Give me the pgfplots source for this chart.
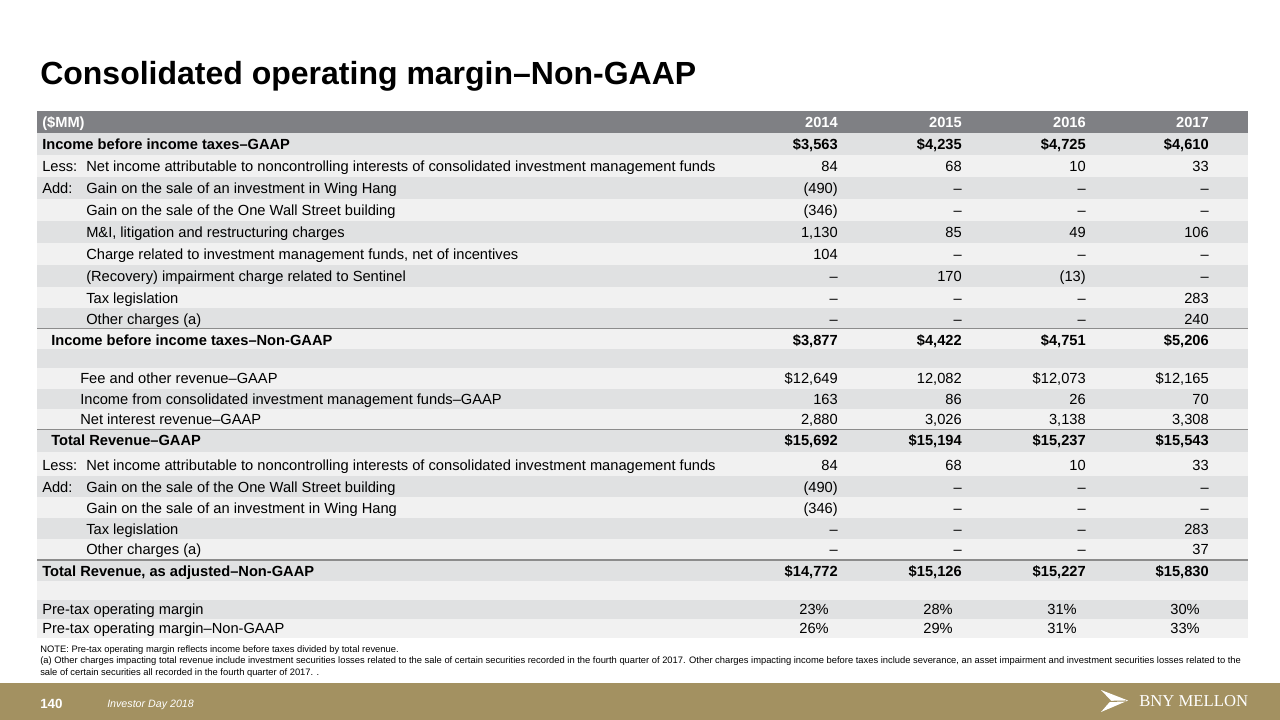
\documentclass[border=0pt]{standalone}
\usepackage{fontspec}
\setmainfont{Liberation Sans}
\newfontfamily\logofont{Liberation Serif}
\usepackage{pgfplots}
\usepackage{pgfplotstable}
\pgfplotsset{compat=1.18}
\definecolor{hdr}{RGB}{127,128,132}
\definecolor{bandA}{RGB}{224,225,226}
\definecolor{bandB}{RGB}{241,241,241}
\definecolor{rulec}{RGB}{140,140,140}
\definecolor{gold}{RGB}{163,145,97}
\newcommand\bodyfont{\fontsize{11}{13}\selectfont}
\newcommand\notefont{\fontsize{7.03}{8}\selectfont}

\pgfplotstableread[col sep=semicolon]{
x;y;t
42;166;Less:
86;166;Net income attributable to noncontrolling interests of consolidated investment management funds
42;188;Add:
86;188;Gain on the sale of an investment in Wing Hang
86;210;Gain on the sale of the One Wall Street building
86;232;M\&I, litigation and restructuring charges
86;254;Charge related to investment management funds, net of incentives
86;276;(Recovery) impairment charge related to Sentinel
86;298;Tax legislation
86;319;Other charges (a)
80;378;Fee and other revenue–GAAP
80;399;Income from consolidated investment management funds–GAAP
80;419;Net interest revenue–GAAP
42;465;Less:
86;465;Net income attributable to noncontrolling interests of consolidated investment management funds
42;487;Add:
86;487;Gain on the sale of the One Wall Street building
86;508;Gain on the sale of an investment in Wing Hang
86;529;Tax legislation
86;549;Other charges (a)
42;609;Pre-tax operating margin
42;628;Pre-tax operating margin–Non-GAAP
}\labN

\pgfplotstableread[col sep=semicolon]{
x;y;t
42;144;Income before income taxes–GAAP
51;340;Income before income taxes–Non-GAAP
51;440;Total Revenue–GAAP
42;571;Total Revenue, as adjusted–Non-GAAP
}\labB

\pgfplotstableread[col sep=semicolon]{
y;a;b;c;d
166;84;68;10;33
188;(490);–;–;–
210;(346);–;–;–
232;1,130;85;49;106
254;104;–;–;–
276;–;170;(13);–
298;–;–;–;283
319;–;–;–;240
378;\$12,649;12,082;\$12,073;\$12,165
399;163;86;26;70
419;2,880;3,026;3,138;3,308
465;84;68;10;33
487;(490);–;–;–
508;(346);–;–;–
529;–;–;–;283
549;–;–;–;37
}\numN

\pgfplotstableread[col sep=semicolon]{
y;a;b;c;d
609;23\%;28\%;31\%;30\%
628;26\%;29\%;31\%;33\%
}\numP

\pgfplotstableread[col sep=semicolon]{
y;a;b;c;d
144;\$3,563;\$4,235;\$4,725;\$4,610
340;\$3,877;\$4,422;\$4,751;\$5,206
440;\$15,692;\$15,194;\$15,237;\$15,543
571;\$14,772;\$15,126;\$15,227;\$15,830
}\numB

\begin{document}
\begin{tikzpicture}
\begin{axis}[width=960pt,height=540pt,scale only axis,
  xmin=0,xmax=1280,ymin=0,ymax=720,y dir=reverse,hide axis,clip=false,
  txt/.style={only marks, mark=none, nodes near coords, point meta=explicit symbolic,
    every node near coord/.append style={inner sep=0pt, text height=7.9pt, text depth=0pt, font=\bodyfont, text=black, #1}},
  txt/.default={anchor=west}]
% page
\fill[white] (axis cs:0,0) rectangle (axis cs:1280,720);
% title
\node[anchor=west,inner sep=0pt,text height=17.2pt,text depth=0pt,font={\fontsize{24}{28}\selectfont\bfseries}] at (axis cs:40,73) {Consolidated operating margin–Non-GAAP};
% header
\fill[hdr] (axis cs:37,111) rectangle (axis cs:1248,133);
% bands
\fill[bandA] (axis cs:37,133) rectangle (axis cs:1248,155);
\fill[bandB] (axis cs:37,155) rectangle (axis cs:1248,177);
\fill[bandA] (axis cs:37,177) rectangle (axis cs:1248,199);
\fill[bandB] (axis cs:37,199) rectangle (axis cs:1248,221);
\fill[bandA] (axis cs:37,221) rectangle (axis cs:1248,243);
\fill[bandB] (axis cs:37,243) rectangle (axis cs:1248,265);
\fill[bandA] (axis cs:37,265) rectangle (axis cs:1248,287);
\fill[bandB] (axis cs:37,287) rectangle (axis cs:1248,308);
\fill[bandA] (axis cs:37,308) rectangle (axis cs:1248,328.5);
\fill[bandB] (axis cs:37,328.5) rectangle (axis cs:1248,349);
\fill[bandA] (axis cs:37,349) rectangle (axis cs:1248,368);
\fill[bandB] (axis cs:37,368) rectangle (axis cs:1248,389);
\fill[bandA] (axis cs:37,389) rectangle (axis cs:1248,409);
\fill[bandB] (axis cs:37,409) rectangle (axis cs:1248,429.5);
\fill[bandA] (axis cs:37,429.5) rectangle (axis cs:1248,452);
\fill[bandB] (axis cs:37,452) rectangle (axis cs:1248,476);
\fill[bandA] (axis cs:37,476) rectangle (axis cs:1248,497);
\fill[bandB] (axis cs:37,497) rectangle (axis cs:1248,518);
\fill[bandA] (axis cs:37,518) rectangle (axis cs:1248,539);
\fill[bandB] (axis cs:37,539) rectangle (axis cs:1248,560);
\fill[bandA] (axis cs:37,560) rectangle (axis cs:1248,581);
\fill[bandB] (axis cs:37,581) rectangle (axis cs:1248,600);
\fill[bandA] (axis cs:37,600) rectangle (axis cs:1248,619);
\fill[bandB] (axis cs:37,619) rectangle (axis cs:1248,638);
% rules
\draw[rulec,line width=1.1pt] (axis cs:37,328.5) -- (axis cs:1248,328.5);
\draw[rulec,line width=1.1pt] (axis cs:37,429.5) -- (axis cs:1248,429.5);
\draw[rulec,line width=1.1pt] (axis cs:37,560) -- (axis cs:1248,560);
% header text
\node[anchor=west,inner sep=0pt,text height=7.9pt,text depth=0pt,font=\bodyfont\bfseries,text=white] at (axis cs:42,122) {(\$MM)};
\node[anchor=east,inner sep=0pt,text height=7.9pt,text depth=0pt,font=\bodyfont\bfseries,text=white] at (axis cs:838,122) {2014};
\node[anchor=east,inner sep=0pt,text height=7.9pt,text depth=0pt,font=\bodyfont\bfseries,text=white] at (axis cs:962,122) {2015};
\node[anchor=east,inner sep=0pt,text height=7.9pt,text depth=0pt,font=\bodyfont\bfseries,text=white] at (axis cs:1086,122) {2016};
\node[anchor=east,inner sep=0pt,text height=7.9pt,text depth=0pt,font=\bodyfont\bfseries,text=white] at (axis cs:1209,122) {2017};
% labels
\addplot[txt] table[x=x,y=y,meta=t] {\labN};
\addplot[txt={anchor=west,font=\bodyfont\bfseries}] table[x=x,y=y,meta=t] {\labB};
% numbers
\addplot[txt={anchor=east}] table[x expr=838,y=y,meta=a] {\numN};
\addplot[txt={anchor=east}] table[x expr=962,y=y,meta=b] {\numN};
\addplot[txt={anchor=east}] table[x expr=1086,y=y,meta=c] {\numN};
\addplot[txt={anchor=east}] table[x expr=1209,y=y,meta=d] {\numN};
\addplot[txt={anchor=east}] table[x expr=829,y=y,meta=a] {\numP};
\addplot[txt={anchor=east}] table[x expr=953,y=y,meta=b] {\numP};
\addplot[txt={anchor=east}] table[x expr=1077,y=y,meta=c] {\numP};
\addplot[txt={anchor=east}] table[x expr=1200,y=y,meta=d] {\numP};
\addplot[txt={anchor=east,font=\bodyfont\bfseries}] table[x expr=838,y=y,meta=a] {\numB};
\addplot[txt={anchor=east,font=\bodyfont\bfseries}] table[x expr=962,y=y,meta=b] {\numB};
\addplot[txt={anchor=east,font=\bodyfont\bfseries}] table[x expr=1086,y=y,meta=c] {\numB};
\addplot[txt={anchor=east,font=\bodyfont\bfseries}] table[x expr=1209,y=y,meta=d] {\numB};
% notes
\node[anchor=west,inner sep=0pt,text height=5pt,text depth=0pt,font=\notefont] at (axis cs:40,649) {NOTE: Pre-tax operating margin reflects income before taxes divided by total revenue.};
\node[anchor=west,inner sep=0pt,text height=5pt,text depth=0pt,font=\notefont] at (axis cs:40,660.5) {(a) Other charges impacting total revenue include investment securities losses related to the sale of certain securities recorded in the fourth quarter of 2017. Other charges impacting income before taxes include severance, an asset impairment and investment securities losses related to the};
\node[anchor=west,inner sep=0pt,text height=5pt,text depth=0pt,font=\notefont] at (axis cs:40,672) {sale of certain securities all recorded in the fourth quarter of 2017. .};
% footer
\fill[gold] (axis cs:0,683) rectangle (axis cs:1280,720);
\node[anchor=west,inner sep=0pt,text height=7.2pt,text depth=0pt,font={\fontsize{10}{12}\selectfont\bfseries},text=white] at (axis cs:40,704) {140};
\node[anchor=west,inner sep=0pt,text height=5.7pt,text depth=0pt,font={\fontsize{8}{10}\selectfont\itshape},text=white] at (axis cs:107,704) {Investor Day 2018};
\fill[white] (axis cs:1101,690) -- (axis cs:1128,700.5) -- (axis cs:1101,712) -- (axis cs:1111,700.5) -- cycle;
\draw[gold,line width=0.8pt] (axis cs:1104,701.5) -- (axis cs:1126,701);
\node[anchor=west,inner sep=0pt,text height=8.2pt,text depth=0pt,font={\fontsize{12.5}{14}\selectfont\logofont},text=white] at (axis cs:1139,701) {BNY MELLON};
\end{axis}
\end{tikzpicture}
\end{document}
